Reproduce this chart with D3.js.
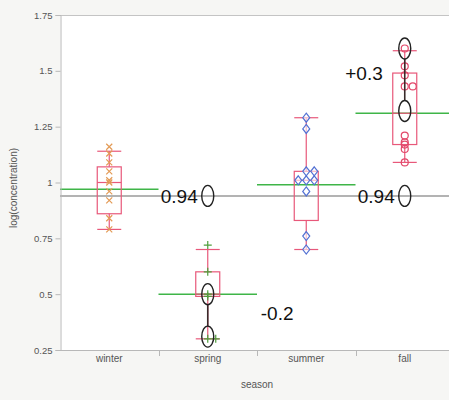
<!DOCTYPE html>
<html><head><meta charset="utf-8">
<script src="https://cdn.jsdelivr.net/npm/d3@7"></script>
<style>
html,body{margin:0;padding:0;background:#f6f6f4;}
svg{display:block;}
</style></head>
<body>
<script>
// ---- data ----
const categories = ["winter", "spring", "summer", "fall"];
const winterValues = [1.16, 1.13, 1.09, 1.05, 1.01, 1.00, 0.96, 0.92, 0.84, 0.79];
const springValues = [0.72, 0.60, 0.50, 0.49, 0.30, 0.30];
const summerValues = [1.29, 1.24, 1.05, 1.05, 1.01, 1.01, 1.01, 0.96, 0.76, 0.70];
const fallValues   = [1.60, 1.52, 1.48, 1.43, 1.43, 1.21, 1.18, 1.17, 1.15, 1.09];
const boxQ1      = [0.86, 0.49, 0.83, 1.17];
const boxMedian  = [1.00, 0.50, 1.01, 1.31];
const boxQ3      = [1.07, 0.60, 1.05, 1.49];
const whiskerLow = [0.79, 0.30, 0.70, 1.09];
const whiskerHigh= [1.14, 0.70, 1.29, 1.59];
const groupMeans = [0.97, 0.50, 0.99, 1.31];
const grandMean = 0.94;
const grandMeanLabel = "0.94";
const effectGroups = ["spring", "fall"];
const effectFrom = [0.50, 1.60];
const effectTo   = [0.31, 1.32];
const effectLabels = ["-0.2", "+0.3"];
const yTickValues = [0.25, 0.5, 0.75, 1, 1.25, 1.5, 1.75];
const yTickLabels = ["0.25", "0.5", "0.75", "1", "1.25", "1.5", "1.75"];
const xTitle = "season";
const yTitle = "log(concentration)";

(function () {
// ---- layout ----
const W = 449, H = 400;
const mLeft = 60, mTop = 15, mBottom = 350, mRight = 454;
const svg = d3.select("body").append("svg").attr("width", W).attr("height", H);

const x = d3.scaleBand().domain(categories).range([mLeft, mRight]).padding(0);
const y = d3.scaleLinear().domain([0.25, 1.75]).range([mBottom, mTop]);
const cx = c => x(c) + x.bandwidth() / 2;

svg.append("rect").attr("x", mLeft).attr("y", mTop)
  .attr("width", W - mLeft).attr("height", mBottom - mTop).attr("fill", "#ffffff");

const g = svg.append("g");
const font = "'Liberation Sans', Arial, sans-serif";
const smallFont = "'Liberation Sans Narrow', 'Liberation Sans', Arial, sans-serif";

// top border
g.append("line").attr("x1", mLeft).attr("x2", W).attr("y1", mTop + 0.5).attr("y2", mTop + 0.5)
  .attr("stroke", "#c4c4c4").attr("stroke-width", 1);

// y axis
const yAxis = d3.axisLeft(y).tickValues(yTickValues)
  .tickFormat((d, i) => yTickLabels[i]).tickSize(5).tickPadding(3);
const ya = svg.append("g").attr("transform", `translate(${mLeft + 0.5},0)`).call(yAxis);
ya.select(".domain").attr("stroke", "#b8b8b8");
ya.selectAll(".tick line").attr("stroke", "#b8b8b8");
ya.selectAll(".tick text").attr("fill", "#555").attr("font-size", 9.5).attr("font-family", smallFont);

// x axis
const xa = svg.append("g").attr("transform", `translate(0,${mBottom + 0.5})`)
  .call(d3.axisBottom(x).tickSize(0).tickPadding(4));
xa.select(".domain").remove();
xa.selectAll(".tick text").attr("fill", "#555").attr("font-size", 10).attr("font-family", smallFont);
svg.append("line").attr("x1", mLeft).attr("x2", W).attr("y1", mBottom + 0.5).attr("y2", mBottom + 0.5)
  .attr("stroke", "#b8b8b8");
svg.selectAll(".sep").data(categories.slice(1)).enter().append("line")
  .attr("x1", d => Math.round(x(d)) + 0.5).attr("x2", d => Math.round(x(d)) + 0.5)
  .attr("y1", mBottom).attr("y2", mBottom + 6).attr("stroke", "#b8b8b8");

// titles
svg.append("text").attr("x", (mLeft + mRight) / 2).attr("y", 388).attr("text-anchor", "middle")
  .attr("font-size", 10).attr("fill", "#555").attr("font-family", smallFont).text(xTitle);
svg.append("text").attr("transform", `translate(17,188) rotate(-90)`).attr("text-anchor", "middle")
  .attr("font-size", 10).attr("fill", "#555").attr("font-family", smallFont).text(yTitle);

// grand mean line
g.append("line").attr("x1", mLeft).attr("x2", W).attr("y1", y(grandMean)).attr("y2", y(grandMean))
  .attr("stroke", "#9a9a9a").attr("stroke-width", 1.5);

// group mean lines
g.selectAll(".mean").data(categories).enter().append("line")
  .attr("x1", d => x(d)).attr("x2", d => x(d) + x.bandwidth())
  .attr("y1", (d, i) => y(groupMeans[i])).attr("y2", (d, i) => y(groupMeans[i]))
  .attr("stroke", "#3fb548").attr("stroke-width", 1.5);

// boxes
const boxColor = "#e8587a";
const bw = 24;
categories.forEach((c, i) => {
  const xc = cx(c);
  const bg = g.append("g").attr("stroke", boxColor).attr("fill", "none").attr("stroke-width", 1.2);
  bg.append("rect").attr("x", xc - bw / 2).attr("y", y(boxQ3[i]))
    .attr("width", bw).attr("height", y(boxQ1[i]) - y(boxQ3[i]));
  bg.append("line").attr("x1", xc - bw / 2).attr("x2", xc + bw / 2)
    .attr("y1", y(boxMedian[i])).attr("y2", y(boxMedian[i]));
  bg.append("line").attr("x1", xc).attr("x2", xc).attr("y1", y(boxQ3[i])).attr("y2", y(whiskerHigh[i]));
  bg.append("line").attr("x1", xc).attr("x2", xc).attr("y1", y(boxQ1[i])).attr("y2", y(whiskerLow[i]));
  bg.append("line").attr("x1", xc - bw / 2).attr("x2", xc + bw / 2).attr("y1", y(whiskerHigh[i])).attr("y2", y(whiskerHigh[i]));
  bg.append("line").attr("x1", xc - bw / 2).attr("x2", xc + bw / 2).attr("y1", y(whiskerLow[i])).attr("y2", y(whiskerLow[i]));
});

// points with dodge for identical values
function dodge(vals) {
  const slots = [0, 8, -8, 16, -16];
  const used = {};
  return vals.map(v => {
    const k = v.toFixed(3);
    used[k] = (used[k] || 0);
    const o = slots[used[k]];
    used[k] += 1;
    return { v, o };
  });
}
const series = [
  { c: "winter", vals: winterValues, shape: "x", color: "#e39a55" },
  { c: "spring", vals: springValues, shape: "plus", color: "#4f9e3c" },
  { c: "summer", vals: summerValues, shape: "diamond", color: "#5472d3" },
  { c: "fall", vals: fallValues, shape: "circle", color: "#e2486a" }
];
series.forEach(s => {
  const pts = dodge(s.vals);
  const pg = g.append("g").attr("stroke", s.color).attr("fill", "none").attr("stroke-width", 1.2);
  pts.forEach(p => {
    const px = cx(s.c) + p.o, py = y(p.v);
    if (s.shape === "x") {
      pg.append("path").attr("d", `M${px - 3},${py - 3}L${px + 3},${py + 3}M${px - 3},${py + 3}L${px + 3},${py - 3}`);
    } else if (s.shape === "plus") {
      pg.append("path").attr("d", `M${px - 4},${py}L${px + 4},${py}M${px},${py - 4}L${px},${py + 4}`);
    } else if (s.shape === "diamond") {
      pg.append("path").attr("fill", "rgba(255,255,255,0.6)")
        .attr("d", `M${px},${py - 4.5}L${px + 3.5},${py}L${px},${py + 4.5}L${px - 3.5},${py}Z`);
    } else {
      pg.append("circle").attr("cx", px).attr("cy", py).attr("r", 3.5);
    }
  });
});

// effect annotations
const ann = g.append("g");
const rx = 6, ry = 10.5;
effectGroups.forEach((c, i) => {
  const xc = cx(c);
  const y1 = y(effectFrom[i]), y2 = y(effectTo[i]);
  const dir = y2 > y1 ? 1 : -1;
  ann.append("line").attr("x1", xc).attr("x2", xc)
    .attr("y1", y1 + dir * ry).attr("y2", y2 - dir * ry)
    .attr("stroke", "#3a2a2a").attr("stroke-width", 1.6);
  [y1, y2, y(grandMean)].forEach(yy => {
    ann.append("ellipse").attr("cx", xc).attr("cy", yy).attr("rx", rx).attr("ry", ry)
      .attr("fill", "none").attr("stroke", "#222").attr("stroke-width", 1.4);
  });
  ann.append("text").attr("x", xc - rx - 4).attr("y", y(grandMean)).attr("dy", "0.36em")
    .attr("text-anchor", "end").attr("font-size", 19).attr("font-family", font)
    .attr("fill", "#111").text(grandMeanLabel);
});
ann.append("text").attr("x", cx("spring") + 53).attr("y", (y(effectFrom[0]) + y(effectTo[0])) / 2 - 2)
  .attr("dy", "0.36em").attr("font-size", 19).attr("font-family", font).attr("fill", "#111")
  .text(effectLabels[0]);
ann.append("text").attr("x", cx("fall") - 22).attr("y", (y(effectFrom[1]) + y(effectTo[1])) / 2 - 7)
  .attr("dy", "0.36em").attr("text-anchor", "end").attr("font-size", 19).attr("font-family", font)
  .attr("fill", "#111").text(effectLabels[1]);
})();
</script>
</body></html>
